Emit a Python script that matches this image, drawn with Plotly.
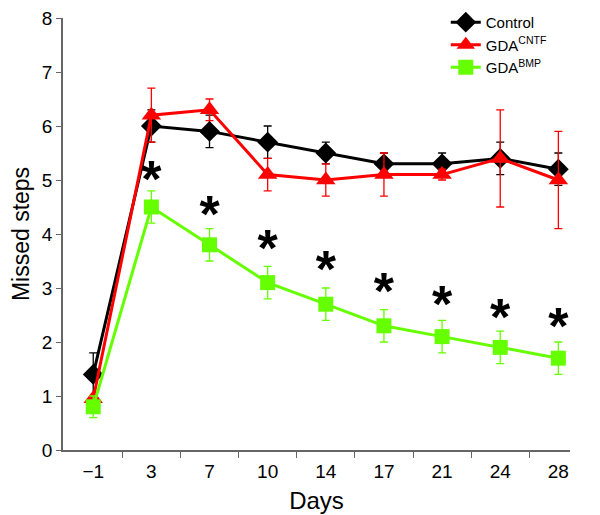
import plotly.graph_objects as go

days = ["\u22121", "3", "7", "10", "14", "17", "21", "24", "28"]
xpos = list(range(len(days)))

control = [1.4, 6.0, 5.9, 5.7, 5.5, 5.3, 5.3, 5.4, 5.2]
control_err = [0.4, 0.3, 0.3, 0.3, 0.2, 0.2, 0.2, 0.3, 0.3]
cntf = [0.95, 6.2, 6.3, 5.1, 5.0, 5.1, 5.1, 5.4, 5.0]
cntf_err = [0.0, 0.5, 0.2, 0.3, 0.3, 0.4, 0.1, 0.9, 0.9]
bmp = [0.8, 4.5, 3.8, 3.1, 2.7, 2.3, 2.1, 1.9, 1.7]
bmp_err = [0.2, 0.3, 0.3, 0.3, 0.3, 0.3, 0.3, 0.3, 0.3]
star_x = [1, 2, 3, 4, 5, 6, 7, 8]
star_y = [4.93, 4.28, 3.65, 3.26, 2.86, 2.61, 2.37, 2.21]

fig = go.Figure()

def add(name, y, err, color, symbol, size):
    fig.add_trace(go.Scatter(
        x=xpos, y=y, name=name, mode="lines+markers",
        line=dict(color=color, width=3),
        marker=dict(color=color, symbol=symbol, size=size),
        error_y=dict(type="data", array=err, visible=True, color=color,
                     thickness=1.3, width=4),
    ))

add("Control", control, control_err, "#000000", "diamond", 16)
add("GDA<sup>CNTF</sup>", cntf, cntf_err, "#FF0000", "triangle-up", 17)
add("GDA<sup>BMP</sup>", bmp, bmp_err, "#66FF00", "square", 15)

fig.add_trace(go.Scatter(
    x=star_x, y=star_y, mode="text", text=["*"] * len(star_x),
    textfont=dict(size=52, color="#000000", family="Liberation Sans", weight="bold"),
    textposition="middle center", showlegend=False, hoverinfo="skip",
))

fig.update_layout(
    width=600, height=515,
    margin=dict(l=55, r=38, t=10, b=73, autoexpand=False),
    plot_bgcolor="white", paper_bgcolor="white",
    font=dict(family="Liberation Sans", size=19, color="#000000"),
    showlegend=True,
    legend=dict(x=0.755, y=1.028, xanchor="left", yanchor="top",
                bgcolor="rgba(0,0,0,0)", font=dict(size=15),
                itemwidth=30, tracegroupgap=0),
    xaxis=dict(
        range=[-0.52, 8.2], tickmode="array", tickvals=xpos, ticktext=days,
        ticks="", showgrid=False, zeroline=False, automargin=False,
        ticklabeloverflow="allow", ticklabelstandoff=3,
        showline=True, linecolor="#666666", linewidth=1.5,
        title=dict(text="Days", font=dict(size=24), standoff=12),
        minor=dict(tickmode="array", tickvals=[i + 0.5 for i in range(8)],
                   ticks="outside", ticklen=6, tickcolor="#666666", tickwidth=1,
                   showgrid=False),
    ),
    yaxis=dict(
        range=[0, 8], tickmode="array", tickvals=list(range(9)),
        ticks="outside", ticklen=5, tickcolor="#666666",
        ticklabeloverflow="allow",
        showgrid=False, zeroline=False, automargin=False,
        showline=True, linecolor="#666666", linewidth=1.5,
        title=dict(text="Missed steps", font=dict(size=23), standoff=12),
    ),
)

fig.write_html("out.html")
